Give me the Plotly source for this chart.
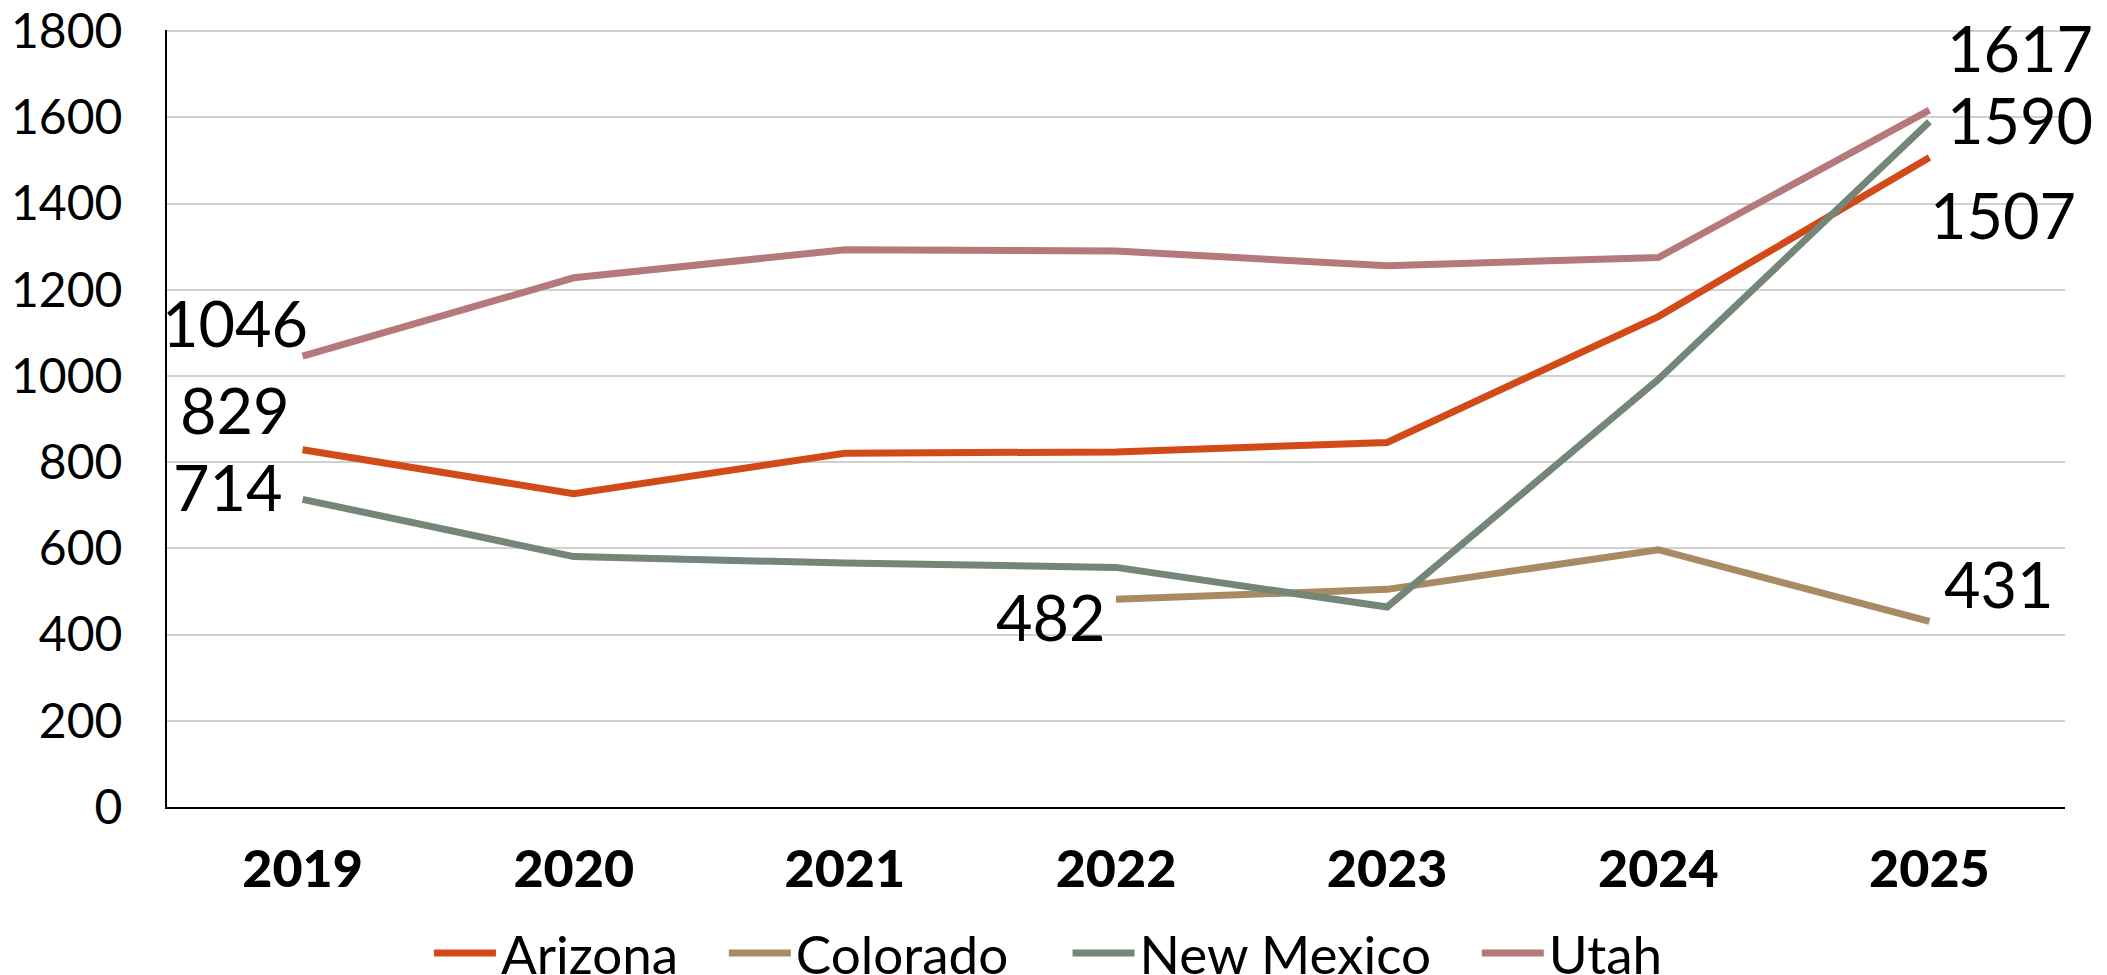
import plotly.graph_objects as go

years = ["2019", "2020", "2021", "2022", "2023", "2024", "2025"]
arizona = [829, 727, 821, 824, 846, 1138, 1507]
colorado = [None, None, None, 482, 505, 597, 431]
new_mexico = [714, 581, 566, 556, 464, 992, 1590]
utah = [1046, 1228, 1293, 1290, 1256, 1275, 1617]

series = [
    ("Arizona", arizona, "#D14A18"),
    ("Colorado", colorado, "#A88B63"),
    ("New Mexico", new_mexico, "#738677"),
    ("Utah", utah, "#B5797B"),
]

FONT = "Lato"
# trailing non-breaking spaces to space legend entries like the reference
legend_pad = {"Arizona": 3, "Colorado": 4, "New Mexico": 3, "Utah": 0}

fig = go.Figure()
for name, vals, col in series:
    fig.add_trace(go.Scatter(
        x=years, y=vals, name=name + "\u00a0" * legend_pad[name],
        mode="lines",
        line=dict(color=col, width=7),
        connectgaps=False,
    ))

# data labels: (series values, year index, xanchor, xshift, yshift)
label_specs = [
    (utah, 0, "right", 7, 34),
    (arizona, 0, "right", -11, 40),
    (new_mexico, 0, "right", -18, 13),
    (colorado, 3, "right", -8, -17),
    (utah, 6, "left", 16, 63),
    (new_mexico, 6, "left", 16, 2),
    (arizona, 6, "left", -1, -57),
    (colorado, 6, "left", 13, 38),
]
for vals, i, xa, xs, ys in label_specs:
    fig.add_annotation(
        x=i, y=vals[i], xref="x", yref="y",
        text=str(vals[i]), showarrow=False,
        xanchor=xa, yanchor="middle", xshift=xs, yshift=ys,
        font=dict(family=FONT, size=63, color="#000000"),
    )

# page body has an 8px default margin; margins compensate for that offset
fig.update_layout(
    width=2107, height=975,
    margin=dict(l=159, r=50, t=22, b=176, autoexpand=False),
    paper_bgcolor="white", plot_bgcolor="white",
    font=dict(family=FONT, color="#000000"),
    showlegend=True,
    legend=dict(
        orientation="h", xref="container", yref="container",
        x=0.4938, xanchor="center", y=0.0308, yanchor="middle",
        font=dict(family=FONT, size=53, color="#000000"),
        itemwidth=62, tracegroupgap=0, bgcolor="rgba(0,0,0,0)",
    ),
)
fig.update_xaxes(
    type="category", range=[-0.5, 6.5], automargin=False,
    showline=True, linecolor="#000000", linewidth=2,
    showgrid=False, ticks="", ticklabelstandoff=16,
    tickfont=dict(family=FONT, size=52, color="#000000", weight=900),
)
fig.update_yaxes(
    range=[0, 1803], dtick=200, tick0=0, automargin=False,
    showline=True, linecolor="#000000", linewidth=2,
    showgrid=True, gridcolor="#D0D0D0", gridwidth=2,
    zeroline=False, ticks="", ticklabelstandoff=33,
    ticklabeloverflow="allow",
    tickfont=dict(family=FONT, size=48, color="#000000"),
)

fig.write_html("out.html")
